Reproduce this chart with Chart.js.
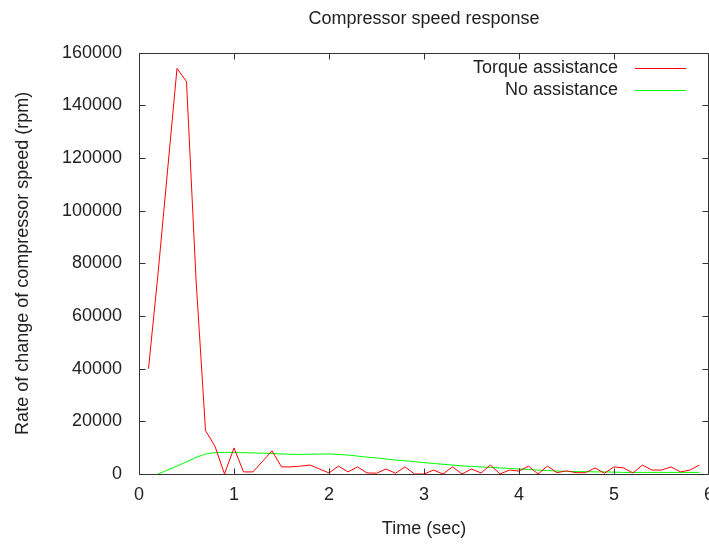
<!DOCTYPE html>
<html>
<head>
<meta charset="utf-8">
<title>Compressor speed response</title>
<script src="https://cdn.jsdelivr.net/npm/chart.js@4.4.1/dist/chart.umd.min.js"></script>
<style>
  html, body { margin: 0; padding: 0; background: #fff; overflow: hidden; }
  #wrap { position: relative; width: 709px; height: 544px; }
</style>
</head>
<body>
<div id="wrap"><canvas id="speedChart"></canvas></div>
<script>
// Data
var torqueTimes = [0.1, 0.2, 0.3, 0.4, 0.5, 0.6, 0.7, 0.8, 0.9, 1.0,
    1.1, 1.2, 1.3, 1.4, 1.5, 1.6, 1.7, 1.8, 1.9, 2.0,
    2.1, 2.2, 2.3, 2.4, 2.5, 2.6, 2.7, 2.8, 2.9, 3.0,
    3.1, 3.2, 3.3, 3.4, 3.5, 3.6, 3.7, 3.8, 3.9, 4.0,
    4.1, 4.2, 4.3, 4.4, 4.5, 4.6, 4.7, 4.8, 4.9, 5.0,
    5.1, 5.2, 5.3, 5.4, 5.5, 5.6, 5.7, 5.8, 5.9];
var torqueValues = [40000, 76000, 115000, 154000, 149000, 74000, 16500, 10500, 0, 9900,
    800, 800, 4800, 8800, 2700, 2700, 3000, 3400, 1900, 400,
    3000, 800, 2700, 400, 300, 1900, 300, 2700, 0, 0,
    1500, 0, 2700, 0, 1900, 400, 3400, 0, 1500, 1100,
    3000, 0, 3000, 500, 1200, 500, 500, 2300, 300, 2700,
    2300, 400, 3400, 1500, 1500, 2700, 800, 1500, 3400];

var noAssistTimes = [0.2, 0.3, 0.4, 0.5, 0.6, 0.7, 0.8, 0.9, 1.0,
    1.1, 1.2, 1.3, 1.4, 1.5, 1.6, 1.7, 1.8, 1.9, 2.0,
    2.1, 2.2, 2.3, 2.4, 2.5, 2.6, 2.7, 2.8, 2.9, 3.0,
    3.1, 3.2, 3.3, 3.4, 3.5, 3.6, 3.7, 3.8, 3.9, 4.0,
    4.1, 4.2, 4.3, 4.4, 4.5, 4.6, 4.7, 4.8, 4.9, 5.0,
    5.1, 5.2, 5.3, 5.4, 5.5, 5.6, 5.7, 5.8, 5.9];
var noAssistValues = [0, 1500, 3000, 4600, 6300, 7600, 8100, 8200, 8200,
    8100, 8000, 7900, 7800, 7600, 7500, 7400, 7500, 7600, 7600,
    7400, 7200, 6800, 6400, 6100, 5700, 5300, 5000, 4700, 4300,
    4000, 3700, 3400, 3100, 2900, 2700, 2500, 2300, 2100, 1900,
    1700, 1500, 1300, 1100, 1000, 900, 900, 800, 800, 700,
    600, 600, 600, 600, 600, 600, 600, 600, 600];

var seriesLabels = ['Torque assistance', 'No assistance'];
var xTickValues = [0, 1, 2, 3, 4, 5, 6];
var yTickValues = [0, 20000, 40000, 60000, 80000, 100000, 120000, 140000, 160000];

var FONT = '"Liberation Sans", Arial, sans-serif';
var TEXT = '#222';

function toPoints(xs, ys) {
    return xs.map(function (x, i) { return { x: x, y: ys[i] }; });
}

// gnuplot style frame with inward ticks, plus the key in the top right
var gnuFrame = {
    id: 'gnuFrame',
    afterDatasetsDraw: function (chart) {
        var ctx = chart.ctx;
        var a = chart.chartArea;
        var xs = chart.scales.x, ys = chart.scales.y;
        var L = Math.round(a.left) + 0.5, R = Math.round(a.right) - 0.5;
        var T = Math.round(a.top) + 0.5, B = Math.round(a.bottom) + 0.5;
        var tl = 6;

        ctx.save();
        ctx.strokeStyle = '#333';
        ctx.lineWidth = 1;
        ctx.beginPath();
        ctx.moveTo(L, T); ctx.lineTo(R, T); ctx.lineTo(R, B); ctx.lineTo(L, B); ctx.closePath();
        xTickValues.forEach(function (v) {
            var px = Math.round(xs.getPixelForValue(v)) + 0.5;
            ctx.moveTo(px, B); ctx.lineTo(px, B - tl);
            ctx.moveTo(px, T); ctx.lineTo(px, T + tl);
        });
        yTickValues.forEach(function (v) {
            var py = Math.round(ys.getPixelForValue(v)) + 0.5;
            ctx.moveTo(L, py); ctx.lineTo(L + tl, py);
            ctx.moveTo(R, py); ctx.lineTo(R - tl, py);
        });
        ctx.stroke();

        // key
        ctx.font = '18px ' + FONT;
        ctx.textAlign = 'right';
        ctx.textBaseline = 'middle';
        chart.data.datasets.forEach(function (ds, i) {
            var y = 68 + i * 22;
            ctx.fillStyle = TEXT;
            ctx.fillText(ds.label, 618, y);
            ctx.strokeStyle = ds.borderColor;
            ctx.beginPath();
            ctx.moveTo(635, y + 0.5);
            ctx.lineTo(686, y + 0.5);
            ctx.stroke();
        });
        ctx.restore();
    }
};

var ctx = document.getElementById('speedChart').getContext('2d');
var speedChart = new Chart(ctx, {
    type: 'line',
    data: {
        datasets: [{
            label: seriesLabels[0],
            data: toPoints(torqueTimes, torqueValues),
            borderColor: '#ff0000',
            borderWidth: 1,
            pointRadius: 0,
            tension: 0,
            fill: false
        }, {
            label: seriesLabels[1],
            data: toPoints(noAssistTimes, noAssistValues),
            borderColor: '#00ff00',
            borderWidth: 1,
            pointRadius: 0,
            tension: 0,
            fill: false
        }]
    },
    plugins: [gnuFrame],
    options: {
        responsive: true,
        maintainAspectRatio: false,
        animation: false,
        layout: { padding: 0 },
        plugins: {
            legend: { display: false },
            tooltip: { enabled: false },
            title: {
                display: true,
                fullSize: false,
                text: 'Compressor speed response',
                color: TEXT,
                font: { family: FONT, size: 18, weight: 'normal' },
                padding: { top: 8, bottom: 23 }
            }
        },
        scales: {
            x: {
                type: 'linear',
                min: 0,
                max: 6,
                afterBuildTicks: function (scale) {
                    scale.ticks = xTickValues.map(function (v) { return { value: v }; });
                },
                afterFit: function (scale) {
                    scale.height = 70;
                    scale.paddingLeft = 0;
                    scale.paddingRight = 0;
                },
                grid: { display: false, drawTicks: false },
                border: { display: false },
                ticks: {
                    color: TEXT,
                    font: { family: FONT, size: 18 },
                    padding: 10,
                    maxRotation: 0,
                    autoSkip: false,
                    callback: function (v) { return String(v); }
                },
                title: {
                    display: true,
                    text: 'Time (sec)',
                    color: TEXT,
                    font: { family: FONT, size: 18 },
                    padding: 4
                }
            },
            y: {
                type: 'linear',
                min: 0,
                max: 160000,
                afterBuildTicks: function (scale) {
                    scale.ticks = yTickValues.map(function (v) { return { value: v }; });
                },
                afterFit: function (scale) {
                    scale.width = 139;
                },
                grid: { display: false, drawTicks: false },
                border: { display: false },
                ticks: {
                    color: TEXT,
                    font: { family: FONT, size: 18 },
                    padding: 17,
                    autoSkip: false,
                    callback: function (v) { return String(v); }
                },
                title: {
                    display: true,
                    text: 'Rate of change of compressor speed (rpm)',
                    color: TEXT,
                    font: { family: FONT, size: 18 },
                    padding: 12
                }
            }
        }
    }
});
</script>
</body>
</html>
